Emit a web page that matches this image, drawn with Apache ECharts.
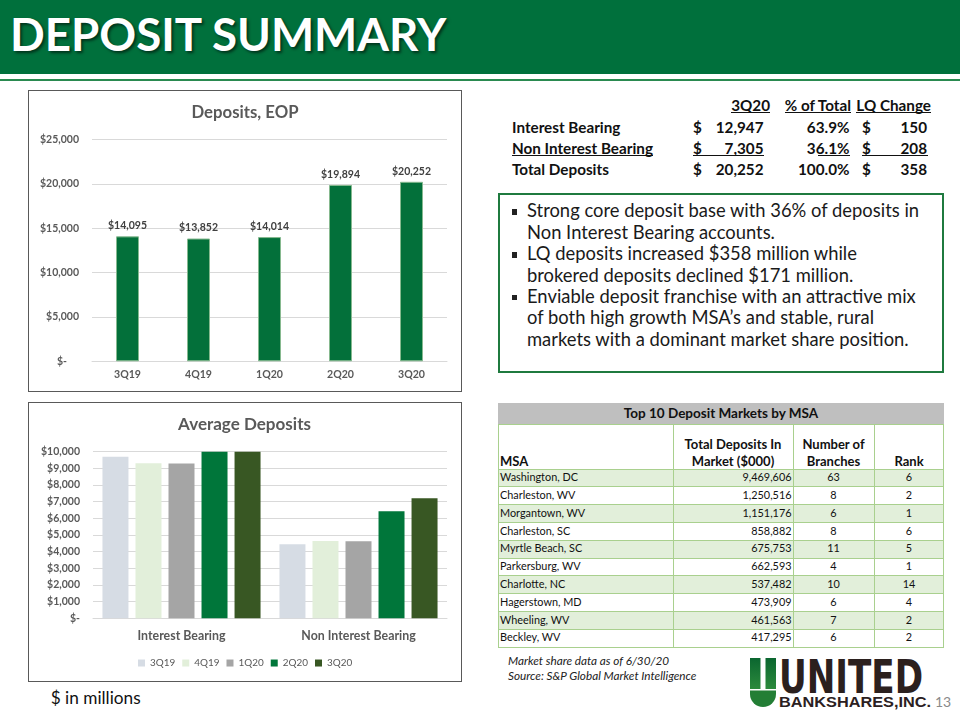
<!DOCTYPE html>
<html><head><meta charset="utf-8"><title>Deposit Summary</title>
<script src="https://cdn.jsdelivr.net/npm/echarts@6.0.0/dist/echarts.min.js"></script>
<style>
html,body{margin:0;padding:0;background:#fff;}
#slide{position:relative;width:960px;height:720px;overflow:hidden;font-family:Lato,sans-serif;}
.a{position:absolute;white-space:nowrap;line-height:1;}
.b{position:absolute;box-sizing:border-box;}
</style></head><body><div id="slide"><div id="chart" style="position:absolute;left:0;top:0;width:480px;height:720px;z-index:2"></div></div>
<script>
// ---------------- data ----------------
const quarters = ['3Q19', '4Q19', '1Q20', '2Q20', '3Q20'];
const eopDeposits = [14095, 13852, 14014, 19894, 20252];
const eopTicks = { min: 0, max: 25000, interval: 5000 };

const avgCategories = ['Interest Bearing', 'Non Interest Bearing'];
const avg3Q19 = [9694, 4440];
const avg4Q19 = [9300, 4637];
const avg1Q20 = [9290, 4620];
const avg2Q20 = [12600, 6419];
const avg3Q20 = [12900, 7199];
const avgTicks = { min: 0, max: 10000, interval: 1000 };

const summaryHeaders = ['3Q20', '% of Total', 'LQ Change'];
const summaryLabels = ['Interest Bearing', 'Non Interest Bearing', 'Total Deposits'];
const summary3Q20 = [12947, 7305, 20252];
const summaryPct = [63.9, 36.1, 100.0];
const summaryLQChange = [150, 208, 358];

const bulletPoints = [
  ['Strong core deposit base with 36% of deposits in', 'Non Interest Bearing accounts.'],
  ['LQ deposits increased $358 million while', 'brokered deposits declined $171 million.'],
  ['Enviable deposit franchise with an attractive mix', 'of both high growth MSA\u2019s and stable, rural', 'markets with a dominant market share position.']
];

const msaTitle = 'Top 10 Deposit Markets by MSA';
const msaNames = ['Washington, DC', 'Charleston, WV', 'Morgantown, WV', 'Charleston, SC', 'Myrtle Beach, SC',
  'Parkersburg, WV', 'Charlotte, NC', 'Hagerstown, MD', 'Wheeling, WV', 'Beckley, WV'];
const msaDeposits = [9469606, 1250516, 1151176, 858882, 675753, 662593, 537482, 473909, 461563, 417295];
const msaBranches = [63, 8, 6, 8, 11, 4, 10, 6, 7, 6];
const msaRank = [6, 2, 1, 6, 5, 1, 14, 4, 2, 2];

// ---------------- helpers ----------------
const slide = document.getElementById('slide');
const mctx = document.createElement('canvas').getContext('2d');
function fitSize(text, weight, target, style) {
  mctx.font = (style || 'normal') + ' ' + weight + ' 100px Lato';
  return 100 * target / mctx.measureText(text).width;
}
function addText(t, x, cy, fs, o) {
  o = o || {};
  const d = document.createElement('div');
  d.className = 'a'; d.textContent = t;
  d.style.fontSize = fs + 'px';
  d.style.fontWeight = o.w || 400;
  if (o.i) d.style.fontStyle = 'italic';
  d.style.color = o.c || '#111';
  if (o.shadow) d.style.textShadow = o.shadow;
  d.style.top = (cy - 0.557 * fs) + 'px';
  d.style.left = x + 'px';
  if (o.align === 'right') d.style.transform = 'translateX(-100%)';
  else if (o.align === 'center') d.style.transform = 'translateX(-50%)';
  slide.appendChild(d);
  return d;
}
function addBox(x, y, w, h, css) {
  const d = document.createElement('div');
  d.className = 'b';
  d.style.cssText += 'left:' + x + 'px;top:' + y + 'px;width:' + w + 'px;height:' + h + 'px;' + (css || '');
  slide.appendChild(d);
  return d;
}
const fmt = v => v.toLocaleString('en-US');
const money = v => '$' + fmt(v);

// ---------------- header ----------------
addBox(0, 0, 960, 74, 'background:#00703C;');
addBox(0, 79, 960, 2, 'background:#2A8A50;');
const fsHead = fitSize('DEPOSIT SUMMARY', 'bold', 438);
addText('DEPOSIT SUMMARY', 10, 35 + 0.03 * fsHead, fsHead, { w: 700, c: '#fff', shadow: '2px 2px 3px rgba(0,0,0,0.55)' });

// chart frames
addBox(28, 90, 434, 302, 'border:1.5px solid #595959;');
addBox(28, 402, 434, 280, 'border:1.5px solid #595959;');

// ---------------- summary table ----------------
const fsSum = fitSize('Non Interest Bearing', 'bold', 141);
function uline(x1, x2, cy) { addBox(x1, cy + 0.37 * fsSum, x2 - x1, 1.4, 'background:#111;'); }
const hdrRight = [770, 851, 931];
summaryHeaders.forEach((h, i) => {
  const d = addText(h, hdrRight[i], 106, fsSum, { w: 700, align: 'right' });
  const wdt = d.getBoundingClientRect().width;
  uline(hdrRight[i] - wdt, hdrRight[i], 106);
});
const rowCy = [128, 149, 170];
summaryLabels.forEach((lab, i) => {
  const cy = rowCy[i];
  const d = addText(lab, 512, cy, fsSum, { w: 700 });
  addText('$', 693, cy, fsSum, { w: 700 });
  addText(fmt(summary3Q20[i]), 763.5, cy, fsSum, { w: 700, align: 'right' });
  addText(summaryPct[i].toFixed(1) + '%', 849.5, cy, fsSum, { w: 700, align: 'right' });
  addText('$', 862, cy, fsSum, { w: 700 });
  addText(fmt(summaryLQChange[i]), 927, cy, fsSum, { w: 700, align: 'right' });
  if (i === 1) {
    uline(512, 512 + d.getBoundingClientRect().width, cy);
    uline(693, 764, cy);
    uline(818, 850, cy);
    uline(862, 927.5, cy);
  }
});

// ---------------- bullet box ----------------
addBox(498, 193, 446, 180, 'border:2px solid #1F7A3F;');
const fsBul = fitSize(bulletPoints[0][0], 'normal', 393);
let li = 0;
bulletPoints.forEach(bp => {
  bp.forEach((line, k) => {
    const cy = 211.7 + li * 21.4;
    if (k === 0) addBox(511.5, cy - 2.5, 5.5, 5.5, 'background:#222;');
    addText(line, 527, cy, fsBul, { c: '#1a1a1a' });
    li++;
  });
});

// ---------------- MSA table ----------------
addBox(498, 403, 446, 21, 'background:#BFBFBF;');
const fsMsaT = fitSize(msaTitle, 'bold', 195);
addText(msaTitle, 721, 414.5, fsMsaT, { w: 700, align: 'center' });
const rowTop = 469, rh = 17.8;
msaNames.forEach((n, i) => {
  if (i % 2 === 0) addBox(498, rowTop + i * rh, 446, rh, 'background:#E2EFDA;');
});
const gcol = '#A9D08E';
addBox(498, 424, 446, 1, 'background:' + gcol);
for (let i = 0; i <= msaNames.length; i++) addBox(498, rowTop + i * rh - 0.5, 446, 1, 'background:' + gcol);
[498, 673, 793, 874, 943.5].forEach(x => addBox(x - 0.5, 424, 1, rowTop + msaNames.length * rh - 424, 'background:' + gcol));
const fsMsaH = fitSize('Total Deposits In', 'bold', 97);
addText('MSA', 500, 462, fsMsaH, { w: 700 });
addText('Total Deposits In', 733, 445, fsMsaH, { w: 700, align: 'center' });
addText('Market ($000)', 733, 462, fsMsaH, { w: 700, align: 'center' });
addText('Number of', 833.5, 445, fsMsaH, { w: 700, align: 'center' });
addText('Branches', 833.5, 462, fsMsaH, { w: 700, align: 'center' });
addText('Rank', 909, 462, fsMsaH, { w: 700, align: 'center' });
const fsMsa = fitSize('Washington, DC', 'normal', 78);
msaNames.forEach((n, i) => {
  const cy = rowTop + i * rh + rh / 2 + 0.3;
  addText(n, 500, cy, fsMsa);
  addText(fmt(msaDeposits[i]), 791.5, cy, fsMsa, { align: 'right' });
  addText(String(msaBranches[i]), 833.5, cy, fsMsa, { align: 'center' });
  addText(String(msaRank[i]), 909, cy, fsMsa, { align: 'center' });
});

// footnotes
const fsFoot = fitSize('Source: S&P Global Market Intelligence', 'normal', 189, 'italic');
addText('Market share data as of 6/30/20', 508, 662, fsFoot, { i: true, c: '#222' });
addText('Source: S&P Global Market Intelligence', 508, 676.5, fsFoot, { i: true, c: '#222' });
const fsMil = fitSize('$ in millions', 'normal', 90);
addText('$ in millions', 50.7, 699, fsMil, { c: '#111' });

// logo
const svgNS = 'http://www.w3.org/2000/svg';
const svg = document.createElementNS(svgNS, 'svg');
svg.setAttribute('width', 960); svg.setAttribute('height', 720);
svg.style.cssText = 'position:absolute;left:0;top:0;pointer-events:none;';
svg.innerHTML =
  '<defs><linearGradient id="lg" x1="0" y1="0" x2="0" y2="1"><stop offset="0" stop-color="#0B6630"/><stop offset="1" stop-color="#2C8A3C"/></linearGradient></defs>' +
  '<rect x="750" y="658" width="10.5" height="31" fill="url(#lg)"/>' +
  '<rect x="765.5" y="658" width="10.5" height="31" fill="url(#lg)"/>' +
  '<path d="M750,690.5 H776 V694 A13,13 0 0 1 750,694 Z" fill="#237E35"/>' +
  '<text x="779" y="693" font-family="\'Liberation Sans Narrow\',\'DejaVu Sans Condensed\',sans-serif" font-weight="bold" font-size="47" textLength="144" lengthAdjust="spacingAndGlyphs" fill="#2B201E">UNITED</text>' +
  '<text x="779" y="706.5" font-family="\'Liberation Sans\',\'DejaVu Sans\',sans-serif" font-weight="bold" font-size="14.5" textLength="152" lengthAdjust="spacingAndGlyphs" fill="#2B201E">BANKSHARES,INC.</text>' +
  '<text x="935" y="707" font-family="Lato" font-size="14" fill="#8A8A8A">13</text>';
slide.appendChild(svg);

// ---------------- charts ----------------
const fsTitle1 = fitSize('Deposits, EOP', 'bold', 107);
const fsTitle2 = fitSize('Average Deposits', 'bold', 133);
const fsY = fitSize('$25,000', 'bold', 39);
const fsX1 = fitSize('3Q19', 'bold', 27);
const fsData = fitSize('$14,095', 'bold', 39);
const fsX2 = fitSize('Interest Bearing', 'bold', 88);
const fsLeg = fitSize('3Q19', 'normal', 25.3);
const gray = '#595959';
const avgColors = ['#D6DCE4', '#E2EFDA', '#A5A5A5', '#00763A', '#385723'];
const avgData = [avg3Q19, avg4Q19, avg1Q20, avg2Q20, avg3Q20];

const chart = echarts.init(document.getElementById('chart'), null, { renderer: 'canvas' });
const yLabel = (pad) => ({
  margin: 13, fontSize: fsY, fontWeight: 'bold', color: gray, fontFamily: 'Lato',
  formatter: v => v === 0 ? '{z|$-}' : money(v),
  rich: { z: { padding: [0, pad, 0, 0], fontSize: fsY, fontWeight: 'bold', color: gray, fontFamily: 'Lato' } }
});
chart.setOption({
  animation: false,
  textStyle: { fontFamily: 'Lato' },
  graphic: [
    { type: 'text', x: 245, y: 113, style: { text: 'Deposits, EOP', fill: gray, font: 'bold ' + fsTitle1 + 'px Lato', align: 'center', verticalAlign: 'middle' } },
    { type: 'text', x: 244.5, y: 425, style: { text: 'Average Deposits', fill: gray, font: 'bold ' + fsTitle2 + 'px Lato', align: 'center', verticalAlign: 'middle' } }
  ],
  legend: {
    data: quarters, left: 133, top: 663 - fsLeg / 2 - 5, padding: 5, itemWidth: 7, itemHeight: 7, itemGap: 7, icon: 'rect',
    textStyle: { fontSize: fsLeg, color: gray, fontFamily: 'Lato' }
  },
  grid: [
    { left: 92, top: 139.7, width: 355, height: 221.6 },
    { left: 93, top: 451.7, width: 354, height: 166.6 }
  ],
  xAxis: [
    { gridIndex: 0, type: 'category', data: quarters, axisLine: { lineStyle: { color: '#D9D9D9' } }, axisTick: { show: false },
      axisLabel: { margin: 8, fontSize: fsX1, fontWeight: 'bold', color: gray, fontFamily: 'Lato' } },
    { gridIndex: 1, type: 'category', data: avgCategories, axisLine: { lineStyle: { color: '#D9D9D9' } }, axisTick: { show: false },
      axisLabel: { margin: 12, fontSize: fsX2, fontWeight: 'bold', color: gray, fontFamily: 'Lato' } }
  ],
  yAxis: [
    { gridIndex: 0, type: 'value', min: eopTicks.min, max: eopTicks.max, interval: eopTicks.interval,
      axisLine: { show: false }, axisTick: { show: false }, splitLine: { lineStyle: { color: '#D9D9D9' } }, axisLabel: yLabel(12) },
    { gridIndex: 1, type: 'value', min: avgTicks.min, max: avgTicks.max, interval: avgTicks.interval,
      axisLine: { show: false }, axisTick: { show: false }, splitLine: { lineStyle: { color: '#D9D9D9' } }, axisLabel: yLabel(0) }
  ],
  series: [
    { type: 'bar', name: 'Deposits, EOP', xAxisIndex: 0, yAxisIndex: 0, data: eopDeposits, barWidth: 23,
      itemStyle: { color: '#03703A', borderColor: '#86B98F', borderWidth: 1 },
      label: { show: true, position: 'top', distance: 5, formatter: p => money(p.value), fontSize: fsData, fontWeight: 'bold', color: '#404040', fontFamily: 'Lato' } }
  ].concat(quarters.map((q, i) => ({
    type: 'bar', name: q, xAxisIndex: 1, yAxisIndex: 1, data: avgData[i], barWidth: 26, barGap: '27%', clip: true,
    itemStyle: { color: avgColors[i] }
  })))
});
</script></body></html>
